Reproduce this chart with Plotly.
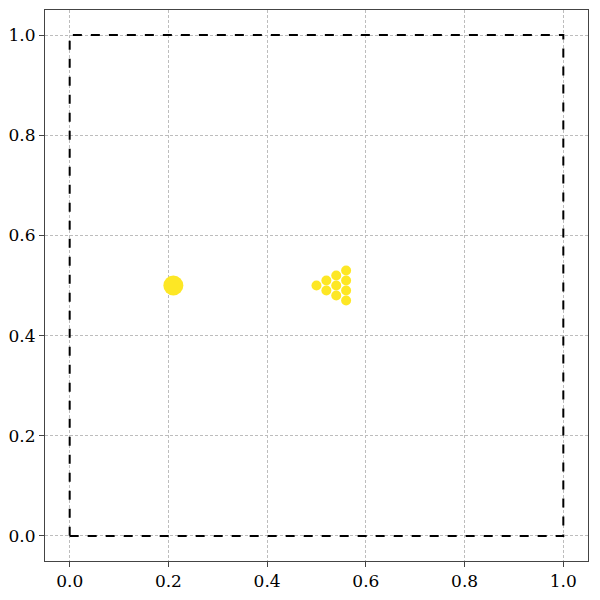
import plotly.graph_objects as go

# boundary square
box_x = [0, 1, 1, 0, 0]
box_y = [0, 0, 1, 1, 0]

# big dot
big_x = [0.21]
big_y = [0.5]

# small dots (triangle formation)
small_x = [0.50, 0.52, 0.52, 0.54, 0.54, 0.54, 0.56, 0.56, 0.56, 0.56]
small_y = [0.50, 0.49, 0.51, 0.48, 0.50, 0.52, 0.47, 0.49, 0.51, 0.53]

tick_vals = [0.0, 0.2, 0.4, 0.6, 0.8, 1.0]
tick_text = ['0.0', '0.2', '0.4', '0.6', '0.8', '1.0']

fig = go.Figure()

fig.add_trace(go.Scatter(
    x=box_x, y=box_y, mode='lines',
    line=dict(color='black', width=2, dash='dash'),
    showlegend=False
))

fig.add_trace(go.Scatter(
    x=big_x, y=big_y, mode='markers',
    marker=dict(color='#fde725', size=20, line=dict(width=0)),
    showlegend=False
))

fig.add_trace(go.Scatter(
    x=small_x, y=small_y, mode='markers',
    marker=dict(color='#fde725', size=10, line=dict(width=0)),
    showlegend=False
))

axis_style = dict(
    range=[-0.05, 1.05],
    tickvals=tick_vals, ticktext=tick_text,
    showgrid=True, gridcolor='#bdbdbd', gridwidth=1, griddash='3px,2px',
    zeroline=False, automargin=False,
    showline=True, linecolor='#444', linewidth=1, mirror=True,
    ticks='outside', ticklen=5, tickcolor='#444',
    tickfont=dict(family='DejaVu Serif', size=17, color='black'),
)

fig.update_xaxes(**axis_style)
fig.update_yaxes(**axis_style)

fig.update_layout(
    width=600, height=600,
    margin=dict(l=37, r=20, t=2, b=47),
    plot_bgcolor='white', paper_bgcolor='white',
)

fig.write_html("out.html")
